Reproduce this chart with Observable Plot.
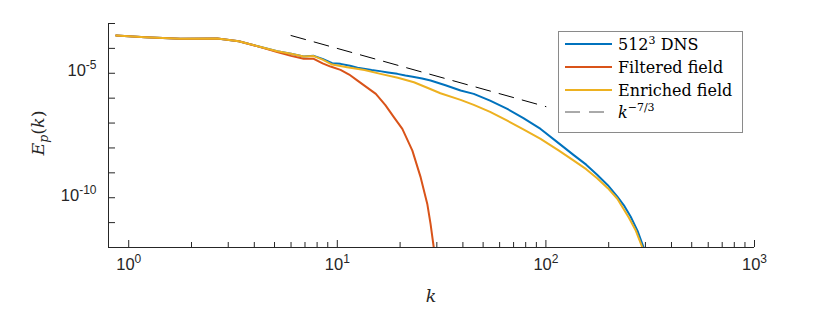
<!DOCTYPE html>
<html><head><meta charset="utf-8">
<script src="https://cdn.jsdelivr.net/npm/d3@7"></script>
<script src="https://cdn.jsdelivr.net/npm/@observablehq/plot@0.6"></script>
<style>
body{margin:0;background:#fff}
#chart{width:830px;height:310px}
</style>
</head><body><div id="chart"></div>
<script>
// ---- data ----
const kDNS = [0.87,1.2,1.77,2.66,3.37,4.2,5.15,6.0,6.9,7.71,8.5,9.45,10.36,11.5,12.5,13.4,14.6,16.0,17.5,19.4,21.2,23.0,25.5,28.0,33,39.0,45.1,54,65.3,78,94.3,115,136,156,176,198,220,238,255,275,294,310];
const eDNS = [3.29e-4,2.82e-4,2.43e-4,2.49e-4,1.94e-4,1.20e-4,7.69e-5,6.03e-5,4.71e-5,5.02e-5,3.80e-5,2.53e-5,2.39e-5,2.00e-5,1.66e-5,1.51e-5,1.35e-5,1.22e-5,1.08e-5,9.48e-6,8.09e-6,7.24e-6,6.17e-6,5.09e-6,3.31e-6,2.02e-6,1.49e-6,7.94e-7,3.71e-7,1.58e-7,5.81e-8,1.56e-8,5.13e-9,2.13e-9,8.43e-10,3.19e-10,1.10e-10,4.57e-11,1.72e-11,4.68e-12,1.0e-12,3.16e-13];

const kFilt = [0.87,1.2,1.77,2.66,3.37,4.2,5.15,6.0,6.9,7.71,8.5,9.28,10.36,11.4,12.5,15.3,17.0,18.7,20.5,22.9,25.1,27.0,28.0,29.0,29.5];
const eFilt = [3.29e-4,2.82e-4,2.43e-4,2.49e-4,1.94e-4,1.18e-4,7.14e-5,5.01e-5,3.80e-5,3.80e-5,2.51e-5,1.86e-5,1.37e-5,8.91e-6,5.09e-6,1.49e-6,5.25e-7,1.70e-7,5.81e-8,7.78e-9,6.56e-10,5.62e-11,8.71e-12,1.0e-12,3.16e-13];

const kEnr = [0.87,1.2,1.77,2.66,3.37,4.2,5.15,6.0,6.9,7.71,8.5,9.45,11.15,13.5,16.1,19.5,23.3,27,31.2,39.0,45.1,54,65.3,78,94.3,115,136,156,176,198,220,250,270,290,305];
const eEnr = [3.29e-4,2.82e-4,2.43e-4,2.49e-4,1.94e-4,1.20e-4,7.69e-5,6.03e-5,4.71e-5,4.90e-5,3.55e-5,2.24e-5,1.75e-5,1.35e-5,9.48e-6,6.61e-6,4.36e-6,2.63e-6,1.58e-6,8.51e-7,5.37e-7,2.82e-7,1.25e-7,5.62e-8,2.30e-8,7.94e-9,3.08e-9,1.40e-9,6.09e-10,2.42e-10,9.10e-11,1.58e-11,4.70e-12,1.0e-12,3.16e-13];

const kRef = [6.0, 100];
const eRef = [3.29e-4, 4.58e-7];

const seriesNames = ["512³ DNS", "Filtered field", "Enriched field", "k^{-7/3}"];
const seriesColors = ["#0072BD", "#D95319", "#EDB120", "#000000"];

// ticks
const xMajor = [1, 10, 100, 1000];
const xMajorExp = ["0", "1", "2", "3"];
const xMinor = [2,3,4,5,6,7,8,9,20,30,40,50,60,70,80,90,200,300,400,500,600,700,800,900];
const yTicks = [1e-12,1e-11,1e-10,1e-9,1e-8,1e-7,1e-6,1e-5,1e-4,1e-3];
const yLabelTicks = [1e-5, 1e-10];
const yLabelExp = ["-5", "-10"];

// ---- build tables ----
const toRows = (ks, es) => ks.map((k, i) => ({k, e: es[i]}));
const dns = toRows(kDNS, eDNS), filt = toRows(kFilt, eFilt), enr = toRows(kEnr, eEnr), ref = toRows(kRef, eRef);

const W = 830, H = 310, mL = 108, mR = 76, mT = 23, mB = 63;
const plotW = W - mL - mR, plotH = H - mT - mB;
const axisColor = "#262626";
const sans = "'Liberation Sans', Arial, Helvetica, sans-serif";
const serif = "'DejaVu Serif', 'Liberation Serif', serif";

const svg = Plot.plot({
  width: W, height: H,
  marginLeft: mL, marginRight: mR, marginTop: mT, marginBottom: mB,
  x: {type: "log", domain: [0.8, 1000], axis: null},
  y: {type: "log", domain: [1e-12, 1e-3], axis: null},
  style: {background: "white", fontFamily: sans, color: axisColor},
  marks: [
    Plot.line(ref, {x: "k", y: "e", stroke: seriesColors[3], strokeWidth: 1, strokeDasharray: "15,9"}),
    Plot.line(dns, {x: "k", y: "e", stroke: seriesColors[0], strokeWidth: 2, clip: true}),
    Plot.line(filt, {x: "k", y: "e", stroke: seriesColors[1], strokeWidth: 2, clip: true}),
    Plot.line(enr, {x: "k", y: "e", stroke: seriesColors[2], strokeWidth: 2, clip: true}),
    Plot.ruleX([0.8], {stroke: axisColor, strokeWidth: 1}),
    Plot.ruleY([1e-12], {stroke: axisColor, strokeWidth: 1}),
    Plot.tickX(xMajor, {x: d => d, insetTop: plotH - 7, stroke: axisColor}),
    Plot.tickX(xMinor, {x: d => d, insetTop: plotH - 5, stroke: axisColor}),
    Plot.tickY(yTicks, {y: d => d, insetRight: plotW - 7, stroke: axisColor}),
    Plot.text(xMajor, {x: d => d, frameAnchor: "bottom", dy: 22, text: (d, i) => xMajorExp[i], fill: axisColor, className: "xlab"}),
    Plot.text(yLabelTicks, {y: d => d, frameAnchor: "left", dx: -12, textAnchor: "end", text: (d, i) => yLabelExp[i], fill: axisColor, className: "ylab"})
  ]
});

// superscript tick labels: "10" + exponent
d3.select(svg).selectAll(".xlab text, .ylab text").each(function() {
  const t = d3.select(this);
  const ex = t.text();
  t.text("");
  t.append("tspan").attr("font-size", 16.5).text("10");
  t.append("tspan").attr("font-size", 12).attr("dy", -7).text(ex);
});

const s = d3.select(svg);
// axis titles
const yt = s.append("text")
  .attr("transform", "translate(44,133) rotate(-90)")
  .attr("text-anchor", "middle")
  .attr("font-family", serif).attr("font-size", 17.5).attr("fill", axisColor);
yt.append("tspan").attr("font-style", "italic").text("E");
yt.append("tspan").attr("font-style", "italic").attr("font-size", 12.5).attr("dy", 4).text("p");
yt.append("tspan").attr("dy", -4).text("(");
yt.append("tspan").attr("font-style", "italic").text("k");
yt.append("tspan").text(")");

s.append("text").attr("x", 431).attr("y", 302).attr("text-anchor", "middle")
  .attr("font-family", serif).attr("font-size", 17.5).attr("font-style", "italic")
  .attr("fill", axisColor).text("k");

// legend
const lg = s.append("g").attr("text-anchor", "start");
const lx = 558, ly = 31, lw = 184, lh = 101;
lg.append("rect").attr("x", lx + 0.5).attr("y", ly + 0.5).attr("width", lw).attr("height", lh)
  .attr("fill", "white").attr("stroke", "#8a8a8a").attr("stroke-width", 1);
const rowY = [44, 67, 90, 112];
seriesNames.forEach((name, i) => {
  const y = rowY[i];
  const ln = lg.append("line").attr("x1", 565).attr("x2", 612).attr("y1", y).attr("y2", y)
    .attr("stroke", i === 3 ? "#555" : seriesColors[i]).attr("stroke-width", i === 3 ? 1 : 2);
  if (i === 3) ln.attr("stroke-dasharray", "15,9");
  const t = lg.append("text").attr("x", 618).attr("y", y + 5.5).attr("text-anchor", "start")
    .attr("font-family", serif).attr("font-size", 16).attr("fill", "#000");
  if (i === 0) {
    t.append("tspan").text("512");
    t.append("tspan").attr("font-size", 11).attr("dy", -6).text("3");
    t.append("tspan").attr("dy", 6).text(" DNS");
  } else if (i === 3) {
    t.append("tspan").attr("font-style", "italic").text("k");
    t.append("tspan").attr("font-size", 11).attr("dy", -7).text("−7/3");
  } else {
    t.text(name);
  }
});

document.getElementById("chart").appendChild(svg);
</script>
</body></html>
